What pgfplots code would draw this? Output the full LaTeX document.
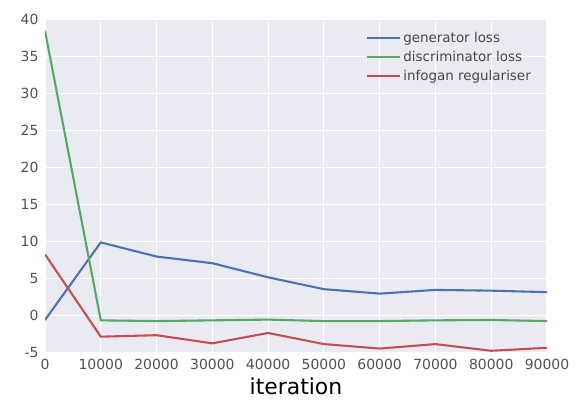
\documentclass[border=0pt]{standalone}
\usepackage{fontspec}
\setmainfont{DejaVu Sans}
\usepackage{pgfplots}
\pgfplotsset{compat=1.18}

\definecolor{sbblue}{HTML}{4C72B0}
\definecolor{sbgreen}{HTML}{55A868}
\definecolor{sbred}{HTML}{C44E52}
\definecolor{sbbg}{HTML}{EAEAF2}
\definecolor{sbtext}{HTML}{262626}

\begin{document}
\begin{tikzpicture}
\begin{axis}[
    scale only axis,
    width=502bp, height=334bp,
    xmin=0, xmax=90000,
    ymin=-5, ymax=40,
    xtick={0,10000,...,90000},
    ytick={-5,0,...,40},
    scaled x ticks=false,
    xticklabel style={/pgf/number format/fixed, /pgf/number format/1000 sep={}, yshift=-3pt},
    yticklabel style={xshift=-3pt},
    /pgf/number format/assume math mode=true,
    tick label style={font=\fontsize{14}{16}\selectfont, text=sbtext!80},
    major tick length=0pt,
    axis background/.style={fill=sbbg},
    axis line style={draw=none},
    grid=major,
    major grid style={white, line width=1.1pt},
    xlabel={iteration},
    xlabel style={font=\fontsize{22}{26}\selectfont, yshift=-1pt},
    legend style={at={(0.978,0.972)}, anchor=north east, draw=none, fill=none,
        font=\fontsize{13.5}{16}\selectfont, text=sbtext!85, row sep=3pt},
    legend cell align=left,
    legend image code/.code={\draw[#1] (0bp,0bp) -- (33bp,0bp);},
]
\addplot[sbblue, line width=2.1pt] coordinates {
(0,-0.55) (10000,9.9) (20000,8.0) (30000,7.1) (40000,5.2) (50000,3.6)
(60000,3.0) (70000,3.5) (80000,3.4) (90000,3.2)};
\addlegendentry{generator loss}
\addplot[sbgreen, line width=2.1pt] coordinates {
(0,38.4) (10000,-0.6) (20000,-0.7) (30000,-0.6) (40000,-0.5) (50000,-0.7)
(60000,-0.7) (70000,-0.6) (80000,-0.55) (90000,-0.7)};
\addlegendentry{discriminator loss}
\addplot[sbred, line width=2.1pt] coordinates {
(0,8.3) (10000,-2.8) (20000,-2.6) (30000,-3.7) (40000,-2.3) (50000,-3.8)
(60000,-4.4) (70000,-3.8) (80000,-4.7) (90000,-4.3)};
\addlegendentry{infogan regulariser}
\coordinate (tl) at (rel axis cs:0,1);
\coordinate (br) at (rel axis cs:1,0);
\end{axis}
\path (tl) ++(-45bp,19bp);
\path (br) ++(33bp,-48bp);
\end{tikzpicture}
\end{document}
